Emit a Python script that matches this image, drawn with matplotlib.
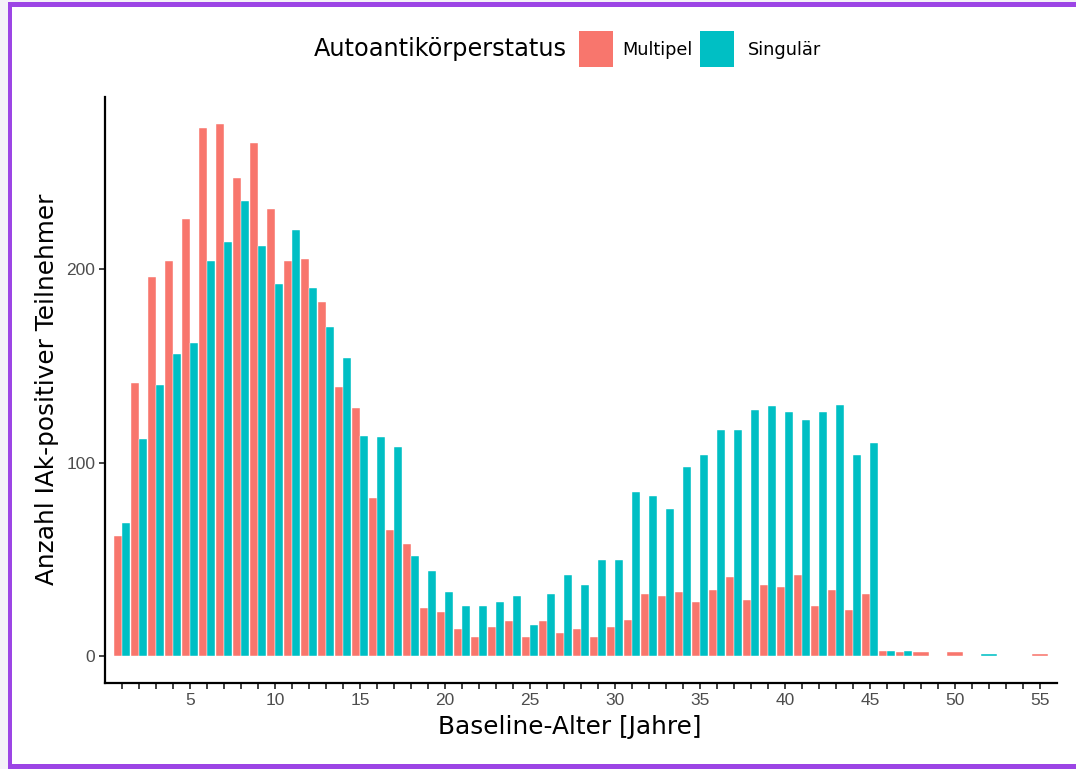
import numpy as np
import matplotlib
matplotlib.use('Agg')
import matplotlib.pyplot as plt
from matplotlib.patches import Rectangle

W, H = 1076, 769

# Baseline-Alter (Jahre) und Anzahl IAk-positiver Teilnehmer je Status
ages = list(range(1, 56))
multipel = {1: 62, 2: 141, 3: 196, 4: 204, 5: 226, 6: 273, 7: 275, 8: 247, 9: 265, 10: 231,
            11: 204, 12: 205, 13: 183, 14: 139, 15: 128, 16: 82, 17: 65, 18: 58, 19: 25, 20: 23,
            21: 14, 22: 10, 23: 15, 24: 18, 25: 10, 26: 18, 27: 12, 28: 14, 29: 10, 30: 15,
            31: 19, 32: 32, 33: 31, 34: 33, 35: 28, 36: 34, 37: 41, 38: 29, 39: 37, 40: 36,
            41: 42, 42: 26, 43: 34, 44: 24, 45: 32, 46: 3, 47: 2, 48: 2, 50: 2, 55: 1}
singular = {1: 69, 2: 112, 3: 140, 4: 156, 5: 162, 6: 204, 7: 214, 8: 235, 9: 212, 10: 192,
            11: 220, 12: 190, 13: 170, 14: 154, 15: 114, 16: 113, 17: 108, 18: 52, 19: 44, 20: 33,
            21: 26, 22: 26, 23: 28, 24: 31, 25: 16, 26: 32, 27: 42, 28: 37, 29: 50, 30: 50,
            31: 85, 32: 83, 33: 76, 34: 98, 35: 104, 36: 117, 37: 117, 38: 127, 39: 129, 40: 126,
            41: 122, 42: 126, 43: 130, 44: 104, 45: 110, 46: 3, 47: 3, 52: 1}
groups = ['Multipel', 'Singulär']
colors = ['#F8766D', '#00BFC4']
y_ticks = [0, 100, 200]

fig = plt.figure(figsize=(W / 100, H / 100), dpi=100)
fig.patch.set_facecolor('white')


def px_rect(x0, y0, x1, y1, color):
    # rectangle in figure pixel coordinates (y from top)
    fig.add_artist(Rectangle((x0 / W, 1 - y1 / H), (x1 - x0) / W, (y1 - y0) / H,
                             transform=fig.transFigure, facecolor=color,
                             edgecolor='none', zorder=0))


# frame around the picture
purple = '#9C45E5'
px_rect(0, 0, W, 2, '#F4F2F8')
px_rect(0, 0, 8, H, '#F4F2F8')
px_rect(8, 2, W, 7, purple)
px_rect(8, 2, 12, H, purple)
px_rect(8, 764, W, H, purple)

ax = fig.add_axes([105 / W, (H - 683) / H, (1057 - 105) / W, (683 - 97) / H])
ax.set_facecolor('white')

# dodged bars; a lone group takes the full width (like ggplot dodge)
for i, (g, d, c) in enumerate(zip(groups, [multipel, singular], colors)):
    other = singular if i == 0 else multipel
    xs, hs, ws = [], [], []
    for a in ages:
        if a not in d:
            continue
        if a in other:
            xs.append(a - 0.225 + 0.45 * i)
            ws.append(0.45)
        else:
            xs.append(a)
            ws.append(0.9)
        hs.append(d[a])
    ax.bar(xs, hs, width=ws, color=c, edgecolor='white', linewidth=0.3, label=g)

ax.set_xlim(0, 56)
ax.set_ylim(-13.75, 288.75)
ax.set_xticks(ages)
ax.set_xticklabels([str(a) if a % 5 == 0 else '' for a in ages])
ax.set_yticks(y_ticks)
ax.set_yticklabels([str(v) for v in y_ticks])
for s in ['top', 'right']:
    ax.spines[s].set_visible(False)
for s in ['left', 'bottom']:
    ax.spines[s].set_linewidth(1.6)
    ax.spines[s].set_color('black')
ax.tick_params(axis='both', length=4, width=1.3, color='#333333', labelcolor='#4D4D4D',
               labelsize=12.5, pad=3)
for lbl in ax.get_xticklabels() + ax.get_yticklabels():
    lbl.set_family('Liberation Sans')

fig.text(570 / W, 1 - 727 / H, 'Baseline-Alter [Jahre]', fontsize=17.8,
         family='DejaVu Sans', ha='center', va='center')
fig.text(47 / W, 1 - 389 / H, 'Anzahl IAk-positiver Teilnehmer', fontsize=17.8,
         family='DejaVu Sans', ha='center', va='center', rotation=90)

# legend on top
fig.text(314 / W, 1 - 49 / H, 'Autoantikörperstatus', fontsize=17.3,
         family='DejaVu Sans', ha='left', va='center')
key_x = [579, 700]
lab_x = [622, 748]
for g, c, kx, lx in zip(groups, colors, key_x, lab_x):
    px_rect(kx, 31, kx + 34, 67, c)
    fig.text(lx / W, 1 - 50 / H, g, fontsize=12.8, family='DejaVu Sans',
             ha='left', va='center')

fig.savefig('out.png', dpi=100)
